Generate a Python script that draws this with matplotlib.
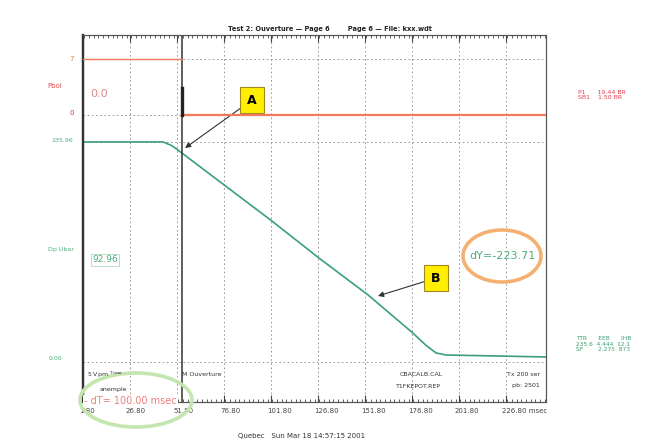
import numpy as np
import matplotlib.pyplot as plt
from matplotlib.patches import Ellipse
from matplotlib.ticker import MultipleLocator
from matplotlib.transforms import ScaledTranslation

# ==========================================
# data read off the screen capture
# ==========================================
# pressure trace Dp (green), time in msec
dp_t = [1.8, 44.4, 49.1, 54.5, 76.8, 101.8, 127.3, 153.4, 177.3, 184.2, 189.6, 194.9, 248.0]
dp_v = [236.0, 236.0, 232.0, 224.0, 190.0, 152.0, 111.5, 72.0, 31.0, 18.0, 9.7, 7.5, 5.4]

# command signal (red), step down at the cursor
cmd_t = [1.8, 54.5, 54.5, 248.0]
cmd_v = [7, 7, 0, 0]

x_ticks = [1.8, 26.8, 51.8, 76.8, 101.8, 126.8, 151.8, 176.8, 201.8, 226.8]
x_labels = ["1.80", "26.80", "51.80", "76.80", "101.80", "126.80",
            "151.80", "176.80", "201.80", "226.80 msec"]
cursor_t = 54.5
green_top, green_bottom = 235.96, 0.00

C_RED = '#f07a5a'
C_GREEN = '#3a9e80'
C_TEXT_G = '#4cae7c'
C_GRID = '#8a8a8a'

W, H = 666, 443
fig = plt.figure(figsize=(W / 100, H / 100), dpi=100)
fig.patch.set_facecolor('white')

def fx(px):
    return px / W

def fy(py):
    return 1 - py / H

ax = fig.add_axes([fx(83), fy(402), fx(546) - fx(83), fy(35) - fy(402)])
axr = ax.twinx()

ax.set_xlim(1.8, 248.1)
ax.set_ylim(-42.9, 350.7)
axr.set_ylim(-35.9, 10.0)

for a in (ax, axr):
    a.set_yticks([])
    a.spines['left'].set_linewidth(1.6)
    a.spines['left'].set_color('#333333')
    a.spines['right'].set_color('#555555')
    a.spines['top'].set_color('#555555')
    a.spines['bottom'].set_color('#555555')
axr.yaxis.set_visible(False)

# --- grid: dotted verticals, reference horizontals ---
for t in x_ticks[1:]:
    ax.axvline(t, color=C_GRID, lw=0.6, ls=(0, (2, 3)), zorder=1)
ax.axhline(green_top, color=C_GRID, lw=0.6, ls=(0, (2, 3)), zorder=1)
ax.axhline(green_bottom, color=C_GRID, lw=0.6, ls=(0, (2, 3)), zorder=1)
axr.axhline(7, color=C_GRID, lw=0.6, ls=(0, (2, 3)), zorder=1)
axr.axhline(0, color=C_GRID, lw=0.6, ls=(0, (2, 3)), zorder=1)

# --- traces ---
axr.plot(cmd_t[:2], cmd_v[:2], color=C_RED, lw=1.0, zorder=3)
axr.plot(cmd_t[2:], cmd_v[2:], color=C_RED, lw=1.6, zorder=3)
ax.plot(dp_t, dp_v, color=C_GREEN, lw=1.2, zorder=3)

# cursor
ax.axvline(cursor_t, color='#333333', lw=1.1, zorder=4)
axr.plot([cursor_t, cursor_t], [0, 3.4], color='#222222', lw=2.4, zorder=4)

# --- x axis ticks ---
ax.set_xticks(x_ticks)
ax.set_xticklabels(x_labels, fontsize=5, color='#444444', ha='left')
ax.xaxis.set_minor_locator(MultipleLocator(2.5))
ax.tick_params(axis='x', which='major', direction='in', length=5, top=True,
               width=0.8, color='#444444', pad=4)
ax.tick_params(axis='x', which='minor', direction='in', length=2.5, top=True,
               width=0.6, color='#444444')
off = ScaledTranslation(-4 / 100, 0, fig.dpi_scale_trans)
for lab in ax.get_xticklabels():
    lab.set_transform(lab.get_transform() + off)

# --- left labels ---
ytr_g = ax.get_yaxis_transform()
ytr_r = axr.get_yaxis_transform()
axr.text(-0.02, 7, "7", transform=ytr_r, ha='right', va='center', fontsize=5, color=C_RED)
axr.text(-0.045, 3.6, "Pbol", transform=ytr_r, ha='right', va='center', fontsize=5, color='#e05050')
axr.text(-0.02, 0.2, "0", transform=ytr_r, ha='right', va='center', fontsize=5, color='#b04040')
ax.text(-0.02, green_top + 2, "235.96", transform=ytr_g, ha='right', va='center', fontsize=4.5, color=C_TEXT_G)
ax.text(-0.02, 121, "Dp Ubar", transform=ytr_g, ha='right', va='center', fontsize=4.5, color=C_TEXT_G)
ax.text(-0.045, green_bottom + 4, "0.00", transform=ytr_g, ha='right', va='center', fontsize=4.5, color=C_TEXT_G)

# --- texts inside the frame ---
fig.text(fx(90), fy(94), "0.0", fontsize=8, color='#e08a8a', va='center')
fig.text(fx(92), fy(260), "92.96", fontsize=6.5, color=C_TEXT_G, va='center',
         bbox=dict(boxstyle='square,pad=0.15', fc='white', ec='#9fd0b0', lw=0.5))
fig.text(fx(502), fy(256), "dY=-223.71", fontsize=8, color=C_TEXT_G, ha='center', va='center')
fig.text(fx(87), fy(375), "5 Vpm $^{Tmax}$", fontsize=4.5, color='#333333', va='center')
fig.text(fx(100), fy(389), "anemple", fontsize=4.5, color='#333333', va='center')
fig.text(fx(182), fy(375), "M Ouverture", fontsize=4.5, color='#333333', va='center')
fig.text(fx(400), fy(374), "CBACALB.CAL", fontsize=4.5, color='#333333', va='center')
fig.text(fx(396), fy(386), "T1FKEPOT.REP", fontsize=4.5, color='#333333', va='center')
fig.text(fx(540), fy(374), "Tx 200 ser", fontsize=4.5, color='#333333', va='center', ha='right')
fig.text(fx(540), fy(386), "pb: 2501", fontsize=4.5, color='#333333', va='center', ha='right')
fig.text(fx(84), fy(401), "- dT= 100.00 msec", fontsize=7, color='#ec8080', va='center', zorder=6,
         bbox=dict(boxstyle='square,pad=0.1', fc='white', ec='none'))

# --- title and footer ---
fig.text(fx(228), fy(29), "Test 2: Ouverture \u2014 Page 6        Page 6 \u2014 File: kxx.wdt",
         fontsize=4.8, fontweight='bold', color='#222222', va='center')
fig.text(fx(238), fy(436), "Quebec   Sun Mar 18 14:57:15 2001",
         fontsize=5, color='#333333', va='center')

# --- readouts on the right ---
fig.text(fx(578), fy(95), "P1      19.44 BR\nSB1    1.50 BR", fontsize=4.5,
         color='#e04050', va='center', linespacing=1.1)
fig.text(fx(576), fy(344), "TTR      EEB      IHB\n235.6  4.444  12.1\nSF        2.275  873",
         fontsize=4.2, color='#3a9e70', va='center', linespacing=1.1)

# --- callouts A and B ---
box = dict(boxstyle='square,pad=0.55', fc='#ffee00', ec='#a08a20', lw=0.8)
arrow = dict(arrowstyle='-|>', color='#333333', lw=0.8, mutation_scale=8, shrinkA=0, shrinkB=0)
ax.annotate("A", xy=(56.1, 229.5), xycoords='data', xytext=(fx(252), fy(100)),
            textcoords='figure fraction', ha='center', va='center', fontsize=9,
            fontweight='bold', bbox=box, arrowprops=arrow, zorder=7)
ax.annotate("B", xy=(158.7, 70.8), xycoords='data', xytext=(fx(436), fy(278)),
            textcoords='figure fraction', ha='center', va='center', fontsize=9,
            fontweight='bold', bbox=box, arrowprops=arrow, zorder=7)

# --- highlight ellipses ---
fig.add_artist(Ellipse((fx(502), fy(256)), 78 / W, 52 / H, fill=False,
                       ec='#f4b070', lw=2.6, transform=fig.transFigure))
fig.add_artist(Ellipse((fx(136), fy(400)), 112 / W, 54 / H, fill=False,
                       ec='#c4e4b0', lw=2.6, transform=fig.transFigure))

fig.savefig('out.png', dpi=100, facecolor='white')
